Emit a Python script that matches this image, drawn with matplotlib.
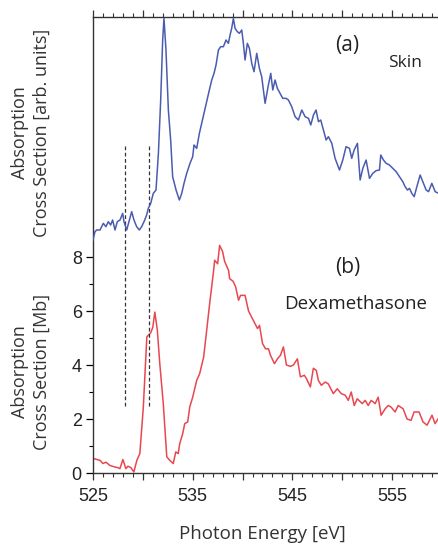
import matplotlib
matplotlib.use("Agg")
import matplotlib.pyplot as plt
from matplotlib.ticker import MultipleLocator, FuncFormatter

# skin spectrum (arb. units)
skin_energy = [525.00, 525.20, 525.37, 525.70, 526.04, 526.30, 526.54, 526.77, 526.97, 527.21,
               527.44, 527.71, 527.98, 528.11, 528.38, 528.65, 528.88, 529.11, 529.38, 529.65,
               529.88, 530.12, 530.38, 530.55, 530.79, 531.05, 531.32, 531.56, 531.79, 531.99,
               532.12, 532.32, 532.56, 532.79, 532.99, 533.33, 533.66, 533.90, 534.13, 534.40,
               534.73, 535.00, 535.13, 535.40, 535.67, 535.90, 536.14, 536.40, 536.67, 536.91,
               537.14, 537.34, 537.58, 537.81, 538.08, 538.34, 538.58, 538.75, 538.91, 539.08,
               539.25, 539.48, 539.68, 539.92, 540.08, 540.25, 540.48, 540.69, 540.92, 541.15,
               541.42, 541.69, 541.92, 542.26, 542.59, 542.83, 543.03, 543.26, 543.49, 543.76,
               544.03, 544.36, 544.60, 544.93, 545.27, 545.60, 545.94, 546.27, 546.61, 546.84,
               547.11, 547.37, 547.61, 547.84, 548.11, 548.38, 548.61, 548.95, 549.28, 549.72,
               550.05, 550.38, 550.72, 550.95, 551.19, 551.52, 551.79, 552.06, 552.39, 552.73,
               553.06, 553.39, 553.73, 553.86, 554.13, 554.40, 554.73, 555.07, 555.40, 555.74,
               556.07, 556.30, 556.54, 556.74, 556.97, 557.21, 557.48, 557.81, 558.08, 558.41,
               558.65, 558.98, 559.32, 559.65]
skin_signal = [0.80, 1.05, 1.10, 1.10, 1.30, 1.20, 1.35, 1.25, 1.40, 1.10,
               1.35, 1.40, 1.60, 1.35, 1.10, 1.40, 1.65, 1.40, 1.20, 1.10,
               1.20, 1.35, 1.55, 1.75, 1.90, 2.20, 2.30, 3.40, 5.00, 6.80,
               7.45, 6.50, 4.70, 3.80, 2.70, 2.30, 2.00, 2.20, 2.50, 2.80,
               3.10, 3.30, 3.65, 3.55, 4.00, 4.30, 4.60, 4.95, 5.30, 5.60,
               5.80, 6.05, 6.50, 6.60, 6.60, 6.80, 6.70, 6.95, 7.15, 7.45,
               7.15, 7.05, 7.00, 7.10, 6.70, 6.20, 6.70, 6.55, 6.10, 5.85,
               6.40, 5.95, 5.70, 4.90, 5.45, 5.80, 5.30, 5.60, 5.35, 5.20,
               5.05, 5.05, 5.00, 4.80, 4.50, 4.40, 4.70, 4.50, 4.45, 4.25,
               4.55, 4.70, 4.35, 4.40, 4.10, 3.80, 3.90, 3.70, 3.25, 2.90,
               3.20, 3.60, 3.55, 3.25, 3.50, 3.70, 2.60, 2.95, 3.20, 2.65,
               2.80, 2.88, 2.90, 3.35, 3.20, 3.10, 3.05, 2.95, 2.85, 2.70,
               2.55, 2.40, 2.30, 2.35, 2.20, 2.10, 2.40, 2.75, 2.55, 2.30,
               2.25, 2.50, 2.25, 2.20]

# dexamethasone cross section (Mb)
dex_energy = [525.1, 525.7, 526.0, 526.3, 526.7, 527.2, 527.5, 527.7, 528.0, 528.3,
              528.5, 528.8, 529.1, 529.4, 529.7, 530.05, 530.4, 530.8, 531.0, 531.2,
              531.45, 531.7, 532.05, 532.4, 532.7, 533.05, 533.3, 533.55, 533.7, 534.0,
              534.2, 534.5, 534.7, 535.0, 535.4, 535.7, 536.1, 536.4, 536.7, 537.1,
              537.2, 537.5, 537.7, 538.0, 538.2, 538.6, 538.7, 539.05, 539.3, 539.6,
              539.8, 540.25, 540.6, 540.9, 541.25, 541.5, 541.7, 542.0, 542.3, 542.6,
              542.8, 543.2, 543.5, 543.8, 544.1, 544.4, 544.8, 545.1, 545.5, 545.8,
              546.2, 546.4, 546.8, 547.1, 547.4, 547.6, 547.9, 548.3, 548.6, 549.1,
              549.5, 549.9, 550.3, 550.6, 550.9, 551.2, 551.5, 552.0, 552.3, 552.6,
              552.9, 553.3, 553.6, 553.9, 554.3, 554.6, 554.9, 555.3, 555.6, 556.1,
              556.5, 556.9, 557.2, 557.7, 558.1, 558.5, 559.0, 559.3, 559.6]
dex_sigma = [0.53, 0.47, 0.35, 0.40, 0.28, 0.22, 0.20, 0.16, 0.50, 0.16,
             0.25, 0.20, 0.04, 0.47, 0.72, 2.45, 5.04, 5.20, 5.40, 5.96,
             5.30, 4.05, 2.57, 0.60, 0.47, 0.35, 0.78, 0.72, 1.09, 1.46,
             1.83, 1.89, 2.44, 2.81, 3.43, 3.68, 4.30, 5.28, 6.27, 7.50,
             7.88, 7.75, 8.43, 8.20, 7.84, 7.50, 7.20, 7.10, 6.90, 6.40,
             6.58, 6.58, 6.00, 5.78, 5.53, 5.35, 5.47, 4.80, 4.60, 4.60,
             4.36, 4.05, 4.23, 4.36, 4.67, 4.00, 3.95, 4.00, 4.23, 3.56,
             3.62, 3.50, 3.19, 3.88, 3.80, 3.43, 3.25, 3.37, 3.30, 2.94,
             3.12, 2.94, 2.88, 2.69, 3.00, 2.50, 2.75, 2.57, 2.69, 2.50,
             2.69, 2.57, 2.81, 2.14, 2.38, 2.50, 2.44, 2.26, 2.50, 2.38,
             2.00, 1.95, 2.26, 2.26, 1.89, 1.77, 2.14, 1.83, 2.00]

edge_marks = [528.2, 530.6]
x_labels = [525, 535, 545, 555]

label_font = "Open Sans"
tick_font = "Liberation Sans"

fig = plt.figure(figsize=(4.39, 5.45), dpi=100)
ax = fig.add_axes([0.2118, 0.1321, 0.7882, 0.8367])
ax.set_xlim(525, 559.7)
ax.set_ylim(0, 16.89)

ax.plot(dex_energy, dex_sigma, color="#e8474f", lw=1.1)
ax.vlines(edge_marks, 2.5, 12.1, colors="#333333", linestyles=(0, (3, 2)), lw=0.9)

# skin trace on its own arbitrary scale, shifted up into the top half
ax2 = ax.twinx()
ax2.set_ylim(-6.19, 7.49)
ax2.plot(skin_energy, skin_signal, color="#4a5cb0", lw=1.1)
ax2.axis("off")

ax.spines["right"].set_visible(False)
for side in ["left", "top", "bottom"]:
    ax.spines[side].set_color("#333333")
    ax.spines[side].set_linewidth(1.0)

ax.xaxis.set_major_locator(MultipleLocator(5))
ax.xaxis.set_minor_locator(MultipleLocator(1))
ax.xaxis.set_major_formatter(FuncFormatter(lambda v, p: f"{v:.0f}" if round(v) in x_labels else ""))
ax.set_yticks([0, 2, 4, 6, 8])
ax.set_yticks([1, 3, 5, 7], minor=True)
ax.tick_params(axis="x", which="both", top=True, direction="out", colors="#333333")
ax.tick_params(axis="both", which="major", length=5, width=0.9, labelsize=13, pad=6)
ax.tick_params(axis="both", which="minor", length=3, width=0.8)
ax.tick_params(axis="x", labelcolor="#222222")
ax.tick_params(axis="y", labelcolor="#222222", pad=3)
for lab in ax.get_xticklabels() + ax.get_yticklabels():
    lab.set_fontfamily(tick_font)

ax.text(550.5, 15.85, "(a)", fontsize=15, family=label_font, ha="center", va="center", color="#222222")
ax.text(556.3, 15.2, "Skin", fontsize=12.5, family=label_font, ha="center", va="center", color="#222222")
ax.text(550.5, 7.6, "(b)", fontsize=15, family=label_font, ha="center", va="center", color="#222222")
ax.text(551.3, 6.26, "Dexamethasone", fontsize=13.5, family=label_font, ha="center", va="center", color="#222222")

fig.text(262 / 439, 1 - 534 / 545, "Photon Energy [eV]", fontsize=13.5, family=label_font,
         ha="center", va="center", color="#333333")
fig.text(31 / 439, 1 - 133 / 545, "Absorption\nCross Section [arb. units]", fontsize=13,
         family=label_font, rotation=90, ha="center", va="center", multialignment="center",
         color="#333333", linespacing=1.3)
fig.text(31 / 439, 1 - 372 / 545, "Absorption\nCross Section [Mb]", fontsize=13,
         family=label_font, rotation=90, ha="center", va="center", multialignment="center",
         color="#333333", linespacing=1.3)

fig.savefig("out.png", dpi=100)
